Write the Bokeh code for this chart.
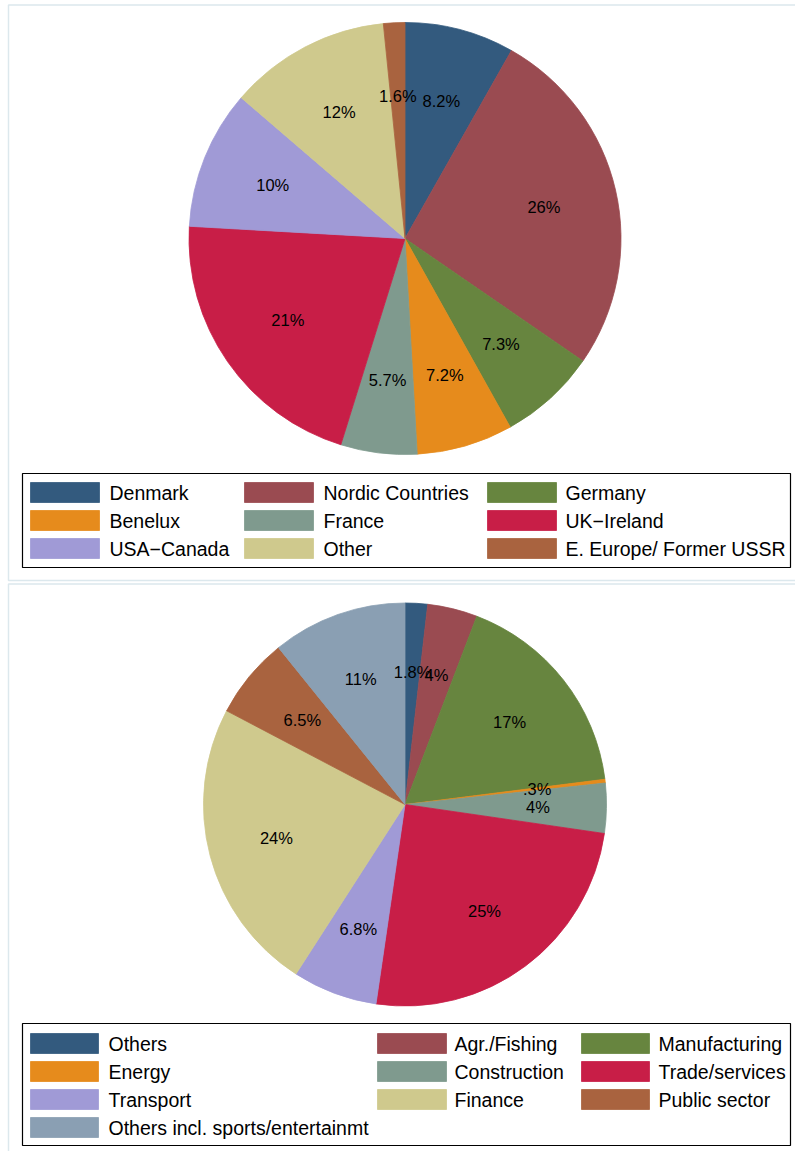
import math
from bokeh.plotting import figure
from bokeh.models import Range1d, ColumnDataSource
from bokeh.layouts import column
from bokeh.embed import file_html
from bokeh.resources import INLINE
from bokeh.core.properties import value

# ---------------- data ----------------
region_names = ["Denmark", "Nordic Countries", "Germany", "Benelux", "France",
                "UK\u2212Ireland", "USA\u2212Canada", "Other", "E. Europe/ Former USSR"]
region_shares = [8.2, 26.4, 7.3, 7.2, 5.7, 21.1, 10.4, 12.1, 1.6]

sector_names = ["Others", "Agr./Fishing", "Manufacturing", "Energy", "Construction",
                "Trade/services", "Transport", "Finance", "Public sector",
                "Others incl. sports/entertainmt"]
sector_shares = [1.8, 4.0, 17.2, 0.3, 4.0, 25.0, 6.8, 23.6, 6.5, 10.8]

# Stata s2color-like palette
palette = ["#335a7e", "#9a4b51", "#67853f", "#e68b1c", "#7f9a8e",
           "#c81e47", "#a09ad6", "#cfc98d", "#a9633f", "#8a9fb3"]

FONT = value("Liberation Sans")


def stata_label(v):
    s = f"{v:.2g}"
    if s.startswith("0."):
        s = s[1:]
    return s + "%"


def make_panel(names, shares, top, bottom, frame, cx, cy, r, box, col_x, text_x, row_y):
    x0, x1 = 0, 795
    p = figure(width=x1 - x0, height=bottom - top,
               x_range=Range1d(x0, x1), y_range=Range1d(-bottom, -top),
               output_backend="svg", toolbar_location=None, min_border=0)
    p.axis.visible = False
    p.grid.visible = False
    p.outline_line_color = None
    p.background_fill_color = "white"
    p.border_fill_color = "white"

    fl, fr, ft, fb = frame
    p.quad(left=[fl], right=[fr], top=[-ft], bottom=[-fb], fill_color=None,
           line_color="#dce8ed", line_width=1.5)

    total = float(sum(shares))
    cum = 0.0
    starts, ends, lx, ly, labels = [], [], [], [], []
    for s in shares:
        a0 = cum / total
        a1 = (cum + s) / total
        cum += s
        starts.append(math.pi / 2 - 2 * math.pi * a0)
        ends.append(math.pi / 2 - 2 * math.pi * a1)
        mid = (a0 + a1) / 2 * 2 * math.pi
        lx.append(cx + 0.66 * r * math.sin(mid))
        ly.append(-cy + 0.66 * r * math.cos(mid))
        labels.append(stata_label(100 * s / total))
    colors = palette[:len(shares)]
    src = ColumnDataSource(dict(start=starts, end=ends, color=colors,
                                lx=lx, ly=ly, label=labels))
    p.wedge(x=cx, y=-cy, radius=r, start_angle="start", end_angle="end",
            direction="clock", fill_color="color", line_color="color",
            line_width=0.8, source=src)
    p.text(x="lx", y="ly", text="label", source=src, text_align="center",
           text_baseline="middle", text_font=FONT, text_font_size="16.5px",
           text_color="black")

    # legend box
    bl, br, bt, bb = box
    p.quad(left=[bl], right=[br], top=[-bt], bottom=[-bb], fill_color=None,
           line_color="black", line_width=1.2)
    sw_l, sw_r, sw_y, tx = [], [], [], []
    for i in range(len(names)):
        row, col = divmod(i, 3)
        sw_l.append(col_x[col][0])
        sw_r.append(col_x[col][1])
        sw_y.append(-row_y[row])
        tx.append(text_x[col])
    lsrc = ColumnDataSource(dict(l=sw_l, r=sw_r, t=[y + 10 for y in sw_y],
                                 b=[y - 10 for y in sw_y], y=sw_y, tx=tx,
                                 name=names, color=colors))
    p.quad(left="l", right="r", top="t", bottom="b", fill_color="color",
           line_color="color", line_width=0.8, source=lsrc)
    p.text(x="tx", y="y", text="name", source=lsrc, text_align="left",
           text_baseline="middle", text_font=FONT, text_font_size="19.5px",
           text_color="black")
    return p


p1 = make_panel(region_names, region_shares, 0, 582, (8, 805, 4.5, 580),
                404.5, 238, 216,
                (22, 790, 473, 567),
                [(30, 99), (244, 313), (487, 556)], [109, 323, 565],
                [492, 520, 548])
p2 = make_panel(sector_names, sector_shares, 582, 1151, (8, 805, 583.5, 1160),
                404.5, 804, 201.5,
                (22, 790, 1023, 1145),
                [(30, 98), (377, 446), (581, 649)], [108, 454, 658],
                [1043, 1071, 1099, 1127])

layout = column(p1, p2)
open("out.html", "w").write(file_html(layout, INLINE))
